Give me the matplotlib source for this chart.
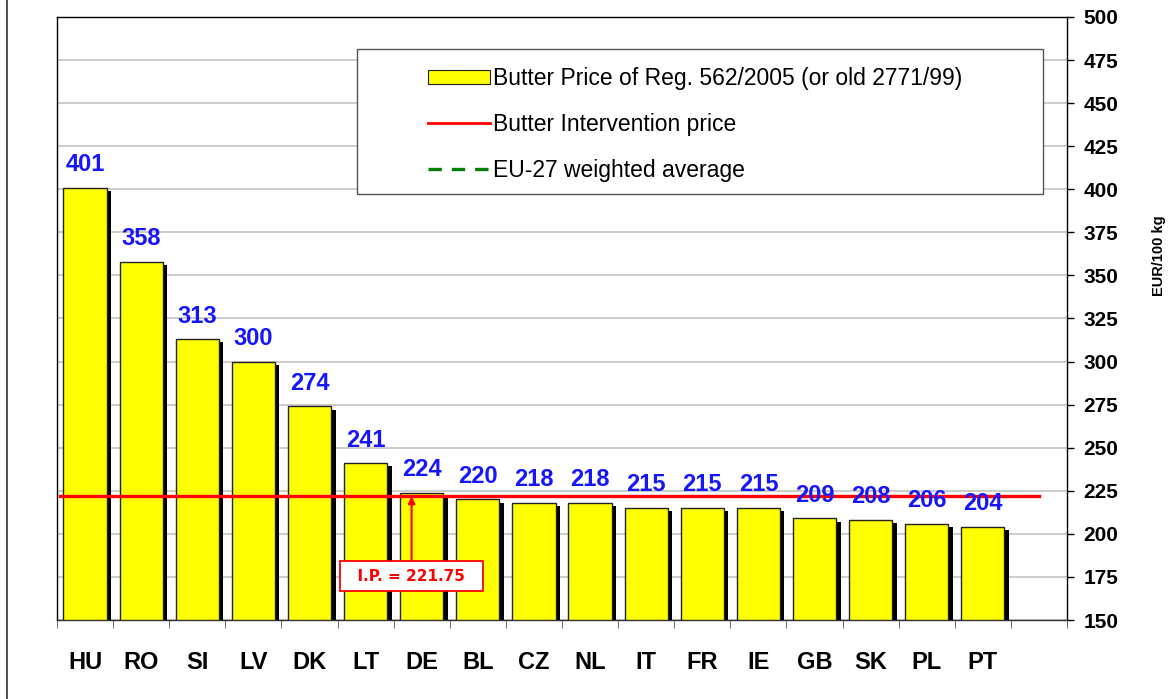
import numpy as np
import matplotlib
matplotlib.use('Agg')
from matplotlib import pyplot as plt
from matplotlib.patches import Rectangle, Patch
from matplotlib.lines import Line2D

countries = ['HU', 'RO', 'SI', 'LV', 'DK', 'LT', 'DE', 'BL', 'CZ', 'NL',
             'IT', 'FR', 'IE', 'GB', 'SK', 'PL', 'PT']
prices = [401, 358, 313, 300, 274, 241, 224, 220, 218, 218,
          215, 215, 215, 209, 208, 206, 204]
intervention_price = 221.75
y_ticks = list(range(150, 501, 25))

plt.rcParams['font.family'] = ['Liberation Sans', 'DejaVu Sans']


def plot_chart():
    fig = plt.figure(figsize=(11.74, 6.99), dpi=100)
    ax = fig.add_axes([57 / 1174, 1 - 620 / 699, 1010 / 1174, 603 / 699])

    x = np.arange(len(countries))
    w = 0.77
    # shadow then bar
    ax.bar(x + 0.08, np.array(prices) - 1.9 - 150, width=w, bottom=150,
           color='black', zorder=2)
    ax.bar(x, np.array(prices) - 150, width=w, bottom=150, color='#ffff00',
           edgecolor='#222222', linewidth=1, zorder=3)

    for xi, v in zip(x, prices):
        ax.annotate(str(v), (xi, v), xytext=(0, 12), textcoords='offset points',
                    ha='center', va='baseline', fontsize=17, fontweight='bold',
                    color='#1515ff', zorder=6)

    ax.plot([-0.45, len(countries)], [intervention_price] * 2, color='red',
            linewidth=2.4, zorder=5)

    ax.annotate('  I.P. = ' + str(intervention_price) + '  ',
                xy=(5.82, intervention_price), xytext=(5.82, 175.5),
                ha='center', va='center',
                fontsize=11, fontweight='bold', color='red',
                family='DejaVu Sans',
                bbox=dict(boxstyle='square,pad=0.5', fc='white', ec='red', lw=1.3),
                arrowprops=dict(arrowstyle='-|>', color='red', lw=1.5,
                                mutation_scale=10, shrinkA=0, shrinkB=0),
                zorder=7)

    ax.set_xlim(-0.5, len(countries) + 0.5)
    ax.set_ylim(150, 500)
    ax.yaxis.tick_right()
    ax.yaxis.set_label_position('right')
    ax.set_yticks(y_ticks)
    ax.tick_params(axis='y', direction='out', length=5, width=1, pad=7,
                   labelsize=15)
    for lab in ax.get_yticklabels():
        lab.set_fontweight('bold')
    ax.set_xticks(x)
    ax.set_xticklabels(countries, fontsize=17, fontweight='bold')
    ax.tick_params(axis='x', length=0, pad=22)
    ax.set_xticks(np.arange(-0.5, len(countries) + 1, 1), minor=True)
    ax.tick_params(axis='x', which='minor', length=6, color='#555555')
    ax.set_ylabel('EUR/100 kg', fontsize=10.5, fontweight='bold')
    ax.yaxis.set_label_coords(1.084, 0.604)

    ax.grid(axis='y', color='#c8c8c8', linewidth=1.3, zorder=0)
    ax.set_axisbelow(True)
    for s in ax.spines.values():
        s.set_linewidth(1)
    ax.spines['bottom'].set_color('#333333')

    # legend box
    ax.add_patch(Rectangle((0.297, 0.706), 0.679, 0.241, transform=ax.transAxes,
                           facecolor='white', edgecolor='#555555', lw=1, zorder=8))
    handles = [Patch(facecolor='#ffff00', edgecolor='#222222', lw=0.8),
               Line2D([], [], color='red', lw=2),
               Line2D([], [], color='green', lw=2.4, linestyle=(0, (4, 3)))]
    labels = ['Butter Price of Reg. 562/2005 (or old 2771/99)',
              'Butter Intervention price', 'EU-27 weighted average']
    leg = ax.legend(handles, labels, loc='upper left',
                    bbox_to_anchor=(0.358, 0.932), frameon=False, fontsize=16.5,
                    handlelength=2.7, handleheight=0.6, handletextpad=0.15,
                    labelspacing=1.0, borderaxespad=0)
    leg.set_zorder(9)

    fig.add_artist(Line2D([7 / 1174, 7 / 1174], [0, 1], color='#333333', lw=1.2))

    fig.savefig('out.png', dpi=100)


if __name__ == '__main__':
    plot_chart()
